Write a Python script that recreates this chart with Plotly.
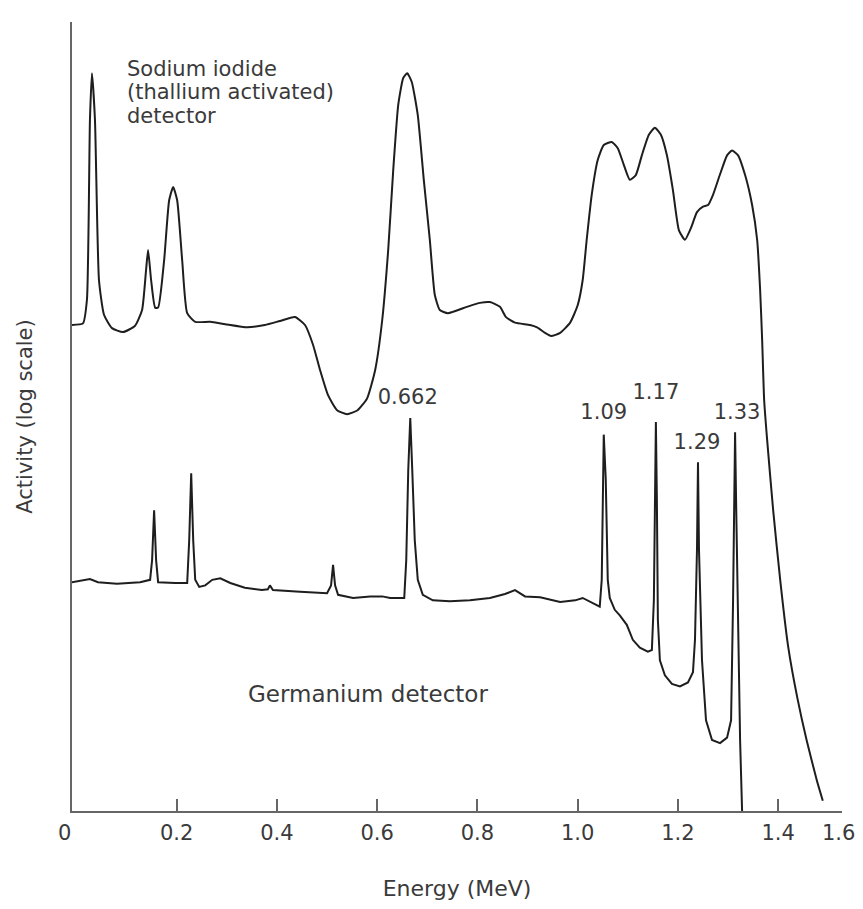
import plotly.graph_objects as go

# ---- Data (energy in MeV, activity in arbitrary log units 0-100) ----
nai_energy = [-0.009, 0.013, 0.021, 0.027, 0.031, 0.037, 0.045, 0.055, 0.071, 0.093,
              0.117, 0.131, 0.139, 0.143, 0.149, 0.157, 0.163, 0.175, 0.185, 0.193,
              0.201, 0.211, 0.221, 0.237, 0.267, 0.297, 0.341, 0.376, 0.406, 0.436,
              0.456, 0.472, 0.486, 0.502, 0.520, 0.540, 0.561, 0.580, 0.596, 0.610,
              0.622, 0.632, 0.642, 0.652, 0.660, 0.669, 0.681, 0.693, 0.705, 0.715,
              0.725, 0.741, 0.779, 0.805, 0.825, 0.845, 0.857, 0.875, 0.905, 0.919,
              0.935, 0.947, 0.965, 0.985, 1.000, 1.010, 1.018, 1.028, 1.040, 1.052,
              1.068, 1.080, 1.092, 1.104, 1.116, 1.128, 1.142, 1.154, 1.166, 1.178,
              1.190, 1.202, 1.214, 1.226, 1.238, 1.250, 1.260, 1.270, 1.284, 1.298,
              1.308, 1.320, 1.334, 1.348, 1.358, 1.364, 1.368, 1.372, 1.378, 1.390,
              1.404, 1.420, 1.438, 1.457, 1.477, 1.489]
nai_activity = [61.6, 61.8, 64.8, 87.6, 93.5, 87.6, 67.3, 62.9, 61.2, 60.7,
                61.5, 63.5, 68.6, 71.1, 67.3, 63.8, 63.8, 69.8, 77.4, 79.1,
                77.4, 69.8, 63.1, 62.0, 62.0, 61.7, 61.3, 61.6, 62.1, 62.6,
                61.6, 59.1, 55.9, 52.7, 50.8, 50.3, 50.8, 52.3, 55.9, 62.2,
                71.1, 81.2, 89.5, 92.9, 93.5, 92.4, 88.2, 80.0, 72.4, 65.4,
                63.5, 63.1, 63.9, 64.4, 64.5, 63.9, 62.6, 61.9, 61.6, 61.3,
                60.6, 60.2, 60.6, 61.9, 64.1, 67.3, 72.4, 78.1, 82.5, 84.4,
                84.8, 84.0, 81.9, 80.0, 80.6, 83.1, 85.7, 86.6, 85.7, 83.1,
                78.7, 73.6, 72.4, 73.9, 75.9, 76.6, 76.8, 78.1, 80.7, 83.1,
                83.7, 83.1, 80.6, 76.8, 72.4, 66.0, 59.7, 52.1, 47.0, 38.1,
                29.3, 20.8, 14.4, 8.9, 3.9, 1.3]

ge_energy = [-0.009, 0.007, 0.027, 0.043, 0.081, 0.127, 0.147, 0.151, 0.155, 0.159,
             0.163, 0.197, 0.221, 0.225, 0.229, 0.233, 0.237, 0.245, 0.257, 0.271,
             0.287, 0.307, 0.336, 0.370, 0.382, 0.386, 0.392, 0.446, 0.500, 0.508,
             0.512, 0.516, 0.522, 0.552, 0.586, 0.610, 0.626, 0.654, 0.658, 0.662,
             0.666, 0.670, 0.675, 0.681, 0.691, 0.711, 0.745, 0.785, 0.825, 0.855,
             0.875, 0.895, 0.925, 0.965, 0.995, 1.010, 1.028, 1.044, 1.048, 1.050,
             1.052, 1.056, 1.060, 1.064, 1.074, 1.084, 1.098, 1.110, 1.124, 1.140,
             1.148, 1.152, 1.154, 1.156, 1.158, 1.160, 1.164, 1.174, 1.188, 1.204,
             1.220, 1.230, 1.234, 1.238, 1.240, 1.242, 1.248, 1.256, 1.268, 1.284,
             1.298, 1.306, 1.310, 1.312, 1.314, 1.316, 1.320, 1.324, 1.328]
ge_activity = [29.0, 29.2, 29.4, 29.0, 28.8, 29.0, 29.3, 31.8, 38.1, 31.8,
               29.0, 28.9, 28.9, 34.3, 42.8, 34.3, 29.3, 28.4, 28.6, 29.3,
               29.5, 28.9, 28.3, 28.0, 28.1, 28.6, 28.0, 27.8, 27.6, 28.6,
               31.2, 28.6, 27.4, 27.0, 27.2, 27.2, 27.0, 27.0, 31.8, 43.2,
               49.8, 43.2, 34.3, 29.3, 27.4, 26.7, 26.6, 26.7, 27.0, 27.5,
               28.0, 27.2, 27.1, 26.5, 26.7, 27.0, 26.4, 25.9, 29.3, 42.0,
               47.7, 42.0, 29.3, 27.0, 25.5, 24.8, 23.6, 21.7, 20.7, 20.2,
               20.4, 26.7, 39.4, 49.3, 39.4, 24.2, 19.1, 17.2, 16.1, 15.8,
               16.3, 17.6, 21.7, 33.1, 44.2, 33.1, 19.1, 11.5, 9.0, 8.6,
               9.3, 11.5, 26.7, 39.4, 48.0, 39.4, 21.7, 9.0, 0.0]

peak_labels = ["0.662", "1.09", "1.17", "1.29", "1.33"]
peak_label_energy = [0.661, 1.052, 1.156, 1.238, 1.318]
peak_label_activity = [52.3, 50.4, 52.9, 46.6, 50.4]

nai_label_lines = ["Sodium iodide", "(thallium activated)", "detector"]
nai_label_activity = [94.1, 91.1, 88.1]

tick_values = [0.2, 0.4, 0.6, 0.8, 1.0, 1.2, 1.4]
tick_labels = ["0.2", "0.4", "0.6", "0.8", "1.0", "1.2", "1.4"]
end_labels = ["0", "1.6"]

FONT = "DejaVu Sans"
TEXT = "#3a3a3a"
LINE = "#1e1e1e"
AXIS = "#666666"

fig = go.Figure()
fig.add_trace(go.Scatter(x=nai_energy, y=nai_activity, mode="lines",
                         line=dict(color=LINE, width=2, shape="spline", smoothing=0.5),
                         showlegend=False, hoverinfo="skip"))
fig.add_trace(go.Scatter(x=ge_energy, y=ge_activity, mode="lines",
                         line=dict(color=LINE, width=2),
                         showlegend=False, hoverinfo="skip"))
fig.add_trace(go.Scatter(x=peak_label_energy, y=peak_label_activity, mode="text",
                         text=peak_labels, textfont=dict(family=FONT, size=21, color=TEXT),
                         showlegend=False, hoverinfo="skip"))

annotations = []
for line_text, act in zip(nai_label_lines, nai_label_activity):
    annotations.append(dict(text=line_text, x=0.097, y=act, xref="x", yref="y",
                            xanchor="left", yanchor="middle", align="left",
                            showarrow=False, font=dict(family=FONT, size=21, color=TEXT)))
annotations.append(dict(text="Germanium detector", x=0.582, y=14.8, xref="x", yref="y",
                        xanchor="center", yanchor="middle", showarrow=False,
                        font=dict(family=FONT, size=23, color=TEXT)))
annotations.append(dict(text=end_labels[0], x=-0.010, y=-0.028, xref="paper", yref="paper",
                        xanchor="center", yanchor="middle", showarrow=False,
                        font=dict(family=FONT, size=21, color=TEXT)))
annotations.append(dict(text=end_labels[1], x=0.995, y=-0.028, xref="paper", yref="paper",
                        xanchor="center", yanchor="middle", showarrow=False,
                        font=dict(family=FONT, size=21, color=TEXT)))

fig.update_layout(
    width=847, height=893,
    margin=dict(l=64, r=13, t=14, b=90),
    paper_bgcolor="white", plot_bgcolor="white",
    annotations=annotations,
    xaxis=dict(range=[-0.0088, 1.5273], showline=True, linecolor=AXIS, linewidth=2,
               showgrid=False, zeroline=False, ticks="inside", ticklen=12, tickwidth=1.5,
               tickcolor=AXIS, tickmode="array", tickvals=tick_values, ticktext=tick_labels,
               tickfont=dict(family=FONT, size=21, color=TEXT), ticklabelstandoff=2,
               automargin=False,
               title=dict(text="Energy (MeV)", font=dict(family=FONT, size=22, color=TEXT),
                          standoff=36)),
    yaxis=dict(range=[0, 100], showline=True, linecolor=AXIS, linewidth=2,
               showgrid=False, zeroline=False, ticks="", showticklabels=False,
               automargin=False,
               title=dict(text="Activity (log scale)", font=dict(family=FONT, size=21, color=TEXT),
                          standoff=32)),
)

fig.write_html("out.html")
